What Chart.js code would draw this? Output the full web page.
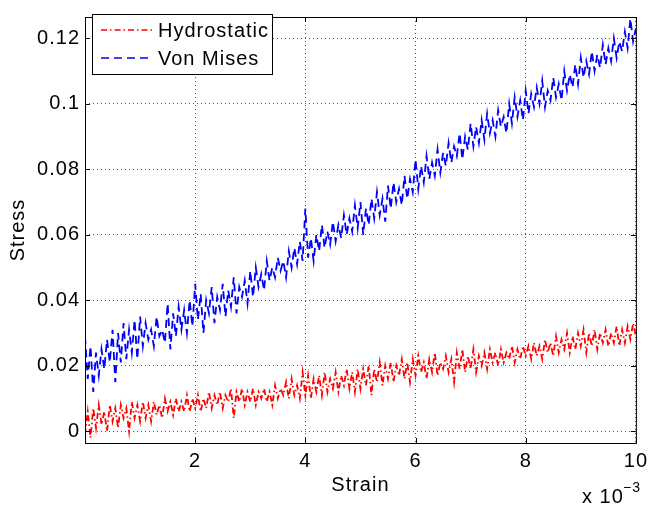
<!DOCTYPE html>
<html>
<head>
<meta charset="utf-8">
<script src="https://cdn.jsdelivr.net/npm/chart.js@4.4.0/dist/chart.umd.min.js"></script>
<style>
  html, body { margin: 0; padding: 0; background: #fff; }
  #wrap { width: 654px; height: 507px; }
</style>
</head>
<body>
<div id="wrap"><canvas id="c" width="654" height="507"></canvas></div>
<script>
// ── Data (strain in units of 1e-3) ─────────────────────────────────────────
const STRAIN = [
  0, 0.05, 0.1, 0.15, 0.2, 0.25, 0.3, 0.35, 0.4, 0.45, 0.5, 0.55, 0.6, 0.65, 0.7, 0.75, 0.8, 0.85, 0.9, 0.95,
  1, 1.05, 1.1, 1.15, 1.2, 1.25, 1.3, 1.35, 1.4, 1.45, 1.5, 1.55, 1.6, 1.65, 1.7, 1.75, 1.8, 1.85, 1.9, 1.95,
  2, 2.05, 2.1, 2.15, 2.2, 2.25, 2.3, 2.35, 2.4, 2.45, 2.5, 2.55, 2.6, 2.65, 2.7, 2.75, 2.8, 2.85, 2.9, 2.95,
  3, 3.05, 3.1, 3.15, 3.2, 3.25, 3.3, 3.35, 3.4, 3.45, 3.5, 3.55, 3.6, 3.65, 3.7, 3.75, 3.8, 3.85, 3.9, 3.95,
  4, 4.05, 4.1, 4.15, 4.2, 4.25, 4.3, 4.35, 4.4, 4.45, 4.5, 4.55, 4.6, 4.65, 4.7, 4.75, 4.8, 4.85, 4.9, 4.95,
  5, 5.05, 5.1, 5.15, 5.2, 5.25, 5.3, 5.35, 5.4, 5.45, 5.5, 5.55, 5.6, 5.65, 5.7, 5.75, 5.8, 5.85, 5.9, 5.95,
  6, 6.05, 6.1, 6.15, 6.2, 6.25, 6.3, 6.35, 6.4, 6.45, 6.5, 6.55, 6.6, 6.65, 6.7, 6.75, 6.8, 6.85, 6.9, 6.95,
  7, 7.05, 7.1, 7.15, 7.2, 7.25, 7.3, 7.35, 7.4, 7.45, 7.5, 7.55, 7.6, 7.65, 7.7, 7.75, 7.8, 7.85, 7.9, 7.95,
  8, 8.05, 8.1, 8.15, 8.2, 8.25, 8.3, 8.35, 8.4, 8.45, 8.5, 8.55, 8.6, 8.65, 8.7, 8.75, 8.8, 8.85, 8.9, 8.95,
  9, 9.05, 9.1, 9.15, 9.2, 9.25, 9.3, 9.35, 9.4, 9.45, 9.5, 9.55, 9.6, 9.65, 9.7, 9.75, 9.8, 9.85, 9.9, 9.95,
  10
];

const HYDROSTATIC = [
  -0.001, 0.006, -0.002, 0.007, 0.001, 0.008, 0.002, 0.006, 0.000, 0.008, 0.003, 0.007, 0.001, 0.008, 0.004, 0.007, 0.000, 0.009, 0.004, 0.008,
  0.003, 0.009, 0.004, 0.008, 0.003, 0.009, 0.005, 0.008, 0.004, 0.010, 0.006, 0.009, 0.005, 0.010, 0.006, 0.009, 0.006, 0.011, 0.006, 0.010,
  0.007, 0.011, 0.006, 0.010, 0.007, 0.012, 0.007, 0.011, 0.008, 0.012, 0.007, 0.011, 0.009, 0.013, 0.004, 0.012, 0.009, 0.013, 0.008, 0.012,
  0.009, 0.013, 0.008, 0.012, 0.010, 0.013, 0.009, 0.012, 0.008, 0.014, 0.010, 0.013, 0.011, 0.015, 0.010, 0.016, 0.011, 0.014, 0.010, 0.018,
  0.011, 0.017, 0.010, 0.016, 0.012, 0.017, 0.011, 0.018, 0.012, 0.016, 0.013, 0.018, 0.012, 0.017, 0.014, 0.019, 0.013, 0.018, 0.012, 0.019,
  0.013, 0.019, 0.014, 0.020, 0.011, 0.019, 0.015, 0.021, 0.014, 0.020, 0.016, 0.021, 0.015, 0.020, 0.017, 0.022, 0.016, 0.021, 0.015, 0.022,
  0.017, 0.023, 0.018, 0.021, 0.016, 0.022, 0.018, 0.024, 0.017, 0.021, 0.019, 0.023, 0.018, 0.022, 0.015, 0.024, 0.019, 0.025, 0.018, 0.023,
  0.019, 0.025, 0.018, 0.023, 0.020, 0.024, 0.019, 0.025, 0.021, 0.024, 0.020, 0.025, 0.021, 0.024, 0.022, 0.026, 0.021, 0.025, 0.022, 0.026,
  0.023, 0.026, 0.022, 0.027, 0.023, 0.026, 0.022, 0.028, 0.024, 0.027, 0.023, 0.029, 0.024, 0.028, 0.025, 0.030, 0.024, 0.029, 0.025, 0.030,
  0.026, 0.031, 0.024, 0.030, 0.026, 0.031, 0.025, 0.030, 0.027, 0.031, 0.026, 0.030, 0.027, 0.032, 0.026, 0.031, 0.027, 0.032, 0.028, 0.033,
  0.029
];

const VON_MISES = [
  0.029, 0.016, 0.026, 0.012, 0.024, 0.017, 0.025, 0.019, 0.028, 0.021, 0.031, 0.015, 0.030, 0.021, 0.033, 0.022, 0.031, 0.024, 0.034, 0.022,
  0.035, 0.026, 0.033, 0.028, 0.031, 0.026, 0.035, 0.029, 0.031, 0.027, 0.039, 0.025, 0.036, 0.029, 0.038, 0.031, 0.037, 0.030, 0.040, 0.032,
  0.045, 0.034, 0.042, 0.030, 0.040, 0.036, 0.044, 0.033, 0.041, 0.037, 0.045, 0.035, 0.043, 0.038, 0.047, 0.036, 0.044, 0.041, 0.046, 0.039,
  0.049, 0.041, 0.050, 0.044, 0.048, 0.043, 0.052, 0.046, 0.050, 0.047, 0.053, 0.049, 0.052, 0.047, 0.055, 0.050, 0.056, 0.051, 0.058, 0.052,
  0.068, 0.053, 0.059, 0.052, 0.060, 0.055, 0.063, 0.056, 0.061, 0.057, 0.064, 0.058, 0.063, 0.059, 0.066, 0.060, 0.065, 0.061, 0.069, 0.062,
  0.070, 0.060, 0.068, 0.063, 0.071, 0.065, 0.073, 0.066, 0.071, 0.064, 0.075, 0.068, 0.076, 0.070, 0.074, 0.069, 0.078, 0.071, 0.077, 0.073,
  0.083, 0.074, 0.081, 0.076, 0.084, 0.077, 0.082, 0.078, 0.086, 0.079, 0.085, 0.081, 0.088, 0.082, 0.087, 0.084, 0.091, 0.083, 0.090, 0.086,
  0.094, 0.087, 0.093, 0.088, 0.095, 0.089, 0.097, 0.091, 0.095, 0.090, 0.098, 0.093, 0.096, 0.091, 0.100, 0.094, 0.102, 0.096, 0.101, 0.095,
  0.104, 0.097, 0.103, 0.099, 0.105, 0.100, 0.107, 0.099, 0.104, 0.101, 0.108, 0.102, 0.106, 0.101, 0.110, 0.104, 0.109, 0.105, 0.112, 0.106,
  0.114, 0.108, 0.113, 0.109, 0.116, 0.110, 0.115, 0.111, 0.118, 0.112, 0.117, 0.113, 0.120, 0.114, 0.119, 0.116, 0.122, 0.117, 0.126, 0.119,
  0.123
];

const X_TICKS = [2, 4, 6, 8, 10];
const Y_TICKS = [0, 0.02, 0.04, 0.06, 0.08, 0.1, 0.12];

const FONT = '"Liberation Sans", Arial, Helvetica, sans-serif';
const FS   = 20;
const RED  = '#ff0000';
const BLUE = '#0000ff';
const DASH_DOT = [6, 3, 1.5, 3];
const DASH     = [8, 5];

// Matlab's Helvetica renders wider than Liberation Sans: widen a little
const spacing = {
  id: 'spacing',
  beforeLayout(chart) { chart.ctx.letterSpacing = '1px'; },
  beforeDraw(chart)   { chart.ctx.letterSpacing = '1px'; },
};

// ── Matlab-style frame, inward ticks, legend and exponent ──────────────────
const matlabFrame = {
  id: 'matlabFrame',
  afterDraw(chart) {
    const { ctx, chartArea: a, scales: { x, y } } = chart;
    ctx.save();
    ctx.strokeStyle = '#000';
    ctx.lineWidth = 1;
    ctx.setLineDash([]);
    ctx.strokeRect(a.left + 0.5, a.top + 0.5, a.right - a.left, a.bottom - a.top);

    ctx.beginPath();
    X_TICKS.forEach(v => {
      const px = Math.round(x.getPixelForValue(v)) + 0.5;
      ctx.moveTo(px, a.bottom); ctx.lineTo(px, a.bottom - 5);
      ctx.moveTo(px, a.top);    ctx.lineTo(px, a.top + 5);
    });
    Y_TICKS.forEach(v => {
      const py = Math.round(y.getPixelForValue(v)) + 0.5;
      ctx.moveTo(a.left, py);  ctx.lineTo(a.left + 5, py);
      ctx.moveTo(a.right, py); ctx.lineTo(a.right - 5, py);
    });
    ctx.stroke();

    // legend box
    const lx = 92, ly = 14, lw = 180, lh = 60;
    ctx.fillStyle = '#fff';
    ctx.fillRect(lx, ly, lw, lh);
    ctx.strokeRect(lx + 0.5, ly + 0.5, lw, lh);
    const items = [
      { label: 'Hydrostatic', color: RED,  dash: DASH_DOT, y: ly + 16 },
      { label: 'Von Mises',   color: BLUE, dash: DASH,     y: ly + 44 },
    ];
    items.forEach(it => {
      ctx.strokeStyle = it.color;
      ctx.lineWidth = 1.5;
      ctx.setLineDash(it.dash);
      ctx.beginPath();
      ctx.moveTo(lx + 9, it.y); ctx.lineTo(lx + 60, it.y);
      ctx.stroke();
      ctx.setLineDash([]);
      ctx.fillStyle = '#000';
      ctx.font = FS + 'px ' + FONT;
      ctx.textBaseline = 'middle';
      ctx.textAlign = 'left';
      ctx.fillText(it.label, lx + 66, it.y + 1);
    });

    // exponent label
    ctx.fillStyle = '#000';
    ctx.textBaseline = 'alphabetic';
    ctx.font = FS + 'px ' + FONT;
    ctx.fillText('x 10', 582, 503);
    ctx.font = '14px ' + FONT;
    ctx.fillText('\u22123', 623, 492);
    ctx.restore();
  }
};

// ── Chart ──────────────────────────────────────────────────────────────────
new Chart(document.getElementById('c'), {
  type: 'line',
  data: {
    datasets: [
      {
        label: 'Hydrostatic',
        data: STRAIN.map((s, i) => ({ x: s, y: HYDROSTATIC[i] })),
        borderColor: RED,
        borderWidth: 1.8,
        borderDash: DASH_DOT,
        pointRadius: 0,
        tension: 0,
        fill: false,
      },
      {
        label: 'Von Mises',
        data: STRAIN.map((s, i) => ({ x: s, y: VON_MISES[i] })),
        borderColor: BLUE,
        borderWidth: 1.8,
        borderDash: DASH,
        pointRadius: 0,
        tension: 0,
        fill: false,
      }
    ]
  },
  options: {
    responsive: false,
    animation: false,
    events: [],
    layout: { padding: { top: 6, right: 14, left: 0, bottom: 0 } },
    plugins: {
      legend: { display: false },
      tooltip: { enabled: false },
    },
    scales: {
      x: {
        type: 'linear',
        min: 0,
        max: 10,
        afterBuildTicks: s => { s.ticks = X_TICKS.map(v => ({ value: v })); },
        afterFit: s => { s.height = 64; },
        ticks: { color: '#000', font: { family: FONT, size: FS }, padding: 6, maxRotation: 0,
                 callback: v => String(v) },
        grid: { color: '#555', lineWidth: 1, drawTicks: false },
        border: { display: false, dash: [1, 3] },
        title: { display: true, text: 'Strain', color: '#000', font: { family: FONT, size: FS },
                 padding: { top: 0, bottom: 10 } },
      },
      y: {
        type: 'linear',
        min: -0.0036,
        max: 0.1265,
        afterBuildTicks: s => { s.ticks = Y_TICKS.map(v => ({ value: v })); },
        afterFit: s => { s.width = 85; },
        ticks: { color: '#000', font: { family: FONT, size: FS }, padding: 5,
                 callback: v => String(+v.toFixed(2)) },
        grid: { color: '#555', lineWidth: 1, drawTicks: false },
        border: { display: false, dash: [1, 3] },
        title: { display: true, text: 'Stress', color: '#000', font: { family: FONT, size: FS },
                 padding: { top: 6, bottom: 0 } },
      }
    }
  },
  plugins: [spacing, matlabFrame]
});
</script>
</body>
</html>
